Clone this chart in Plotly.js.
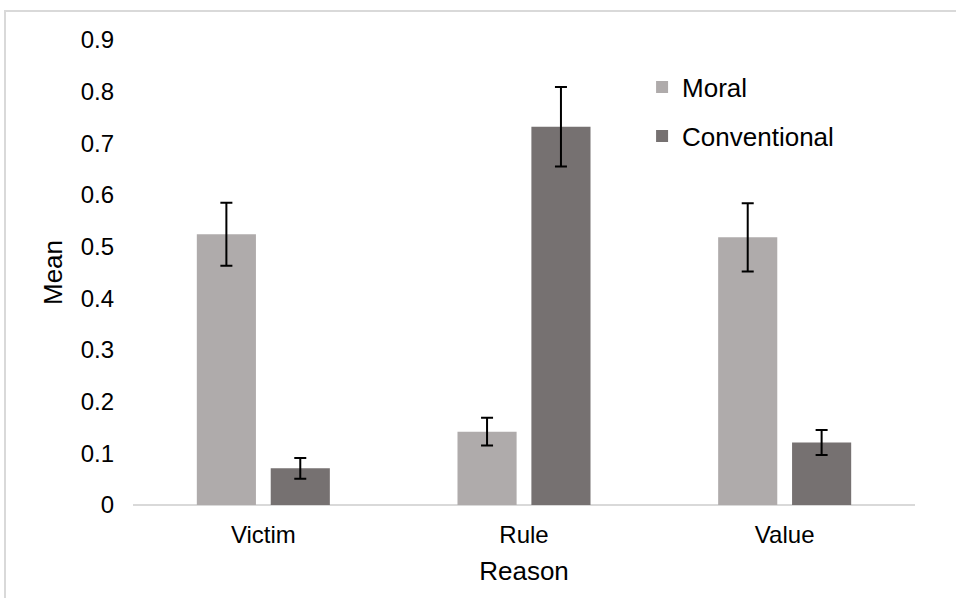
<!DOCTYPE html>
<html>
<head>
<meta charset="utf-8">
<script src="https://cdn.plot.ly/plotly-3.0.1.min.js"></script>
<style>html,body{margin:0;padding:0;background:#fff;}#chart{width:956px;height:598px;}</style>
</head>
<body>
<div id="chart"></div>
<script>
const categories = ["Victim", "Rule", "Value"];
const moralMeans = [0.524, 0.142, 0.518];
const moralErrors = [0.061, 0.027, 0.066];
const conventionalMeans = [0.071, 0.732, 0.121];
const conventionalErrors = [0.020, 0.077, 0.024];
const yTicks = [0, 0.1, 0.2, 0.3, 0.4, 0.5, 0.6, 0.7, 0.8, 0.9];
const yTickLabels = ["0", "0.1", "0.2", "0.3", "0.4", "0.5", "0.6", "0.7", "0.8", "0.9"];

const FONT = "Liberation Sans, Arial, Helvetica, sans-serif";
const errStyle = {type: "data", visible: true, color: "#000000", thickness: 2, width: 6};

const traces = [
  {type: "bar", name: "Moral", x: categories, y: moralMeans, legendgroup: "m",
   marker: {color: "#AFABAB"},
   error_y: Object.assign({array: moralErrors}, errStyle)},
  {type: "bar", name: "Conventional", x: categories, y: conventionalMeans, legendgroup: "c",
   marker: {color: "#767171"},
   error_y: Object.assign({array: conventionalErrors}, errStyle)}
];

const layout = {
  width: 956, height: 598,
  margin: {l: 133, r: 41, t: 40, b: 93},
  paper_bgcolor: "#ffffff", plot_bgcolor: "#ffffff",
  font: {family: FONT, color: "#000000", size: 24},
  barmode: "group", bargap: 0.433, bargroupgap: 0.2,
  showlegend: true,
  legend: {x: 0.651, y: 0.949, xanchor: "left", yanchor: "top",
           font: {size: 26, family: FONT, color: "#000000"},
           traceorder: "grouped", tracegroupgap: 12, bgcolor: "rgba(0,0,0,0)"},
  xaxis: {type: "category", showgrid: false, zeroline: false, showline: false,
          ticks: "", ticklabelstandoff: 13,
          tickfont: {size: 24, family: FONT},
          title: {text: "Reason", font: {size: 26, family: FONT}, standoff: 14}},
  yaxis: {range: [0, 0.9], showgrid: false, zeroline: true, zerolinecolor: "#d9d9d9", zerolinewidth: 2,
          showline: false, ticks: "", tickmode: "array", tickvals: yTicks, ticktext: yTickLabels,
          ticklabelstandoff: 18, tickfont: {size: 24, family: FONT},
          title: {text: "Mean", font: {size: 26, family: FONT}, standoff: 10}},
  shapes: [
    {type: "path", xref: "paper", yref: "paper",
     path: "M -0.1637 -0.25 L -0.1637 1.0624 L 1.07 1.0624",
     line: {color: "#d9d9d9", width: 2}}
  ]
};

Plotly.newPlot("chart", traces, layout, {displayModeBar: false, staticPlot: true});
</script>
</body>
</html>
